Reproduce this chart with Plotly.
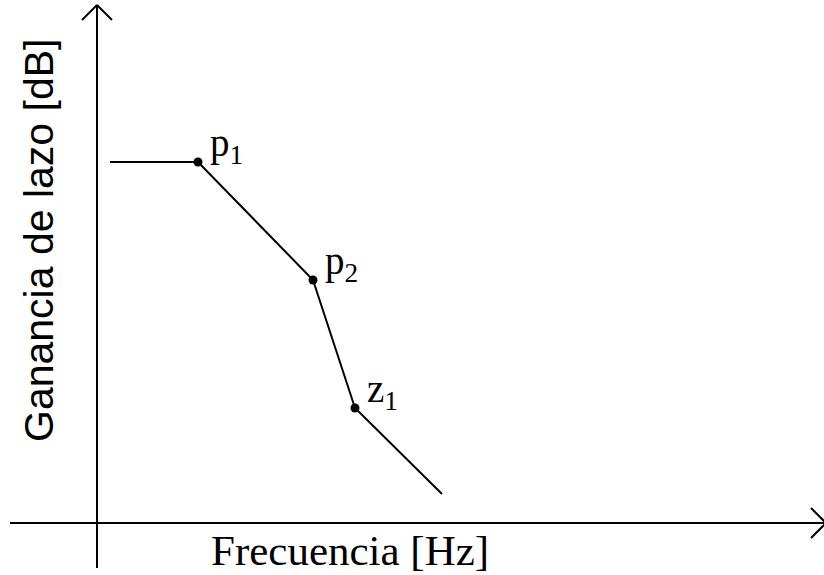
import plotly.graph_objects as go

# Asymptotic loop-gain curve (arbitrary units: frequency, gain)
freq = [1.3, 10.1, 21.6, 25.8, 34.5]
gain = [36.1, 36.1, 24.3, 11.5, 2.9]

# Break points
bp_freq = [10.1, 21.6, 25.8]
bp_gain = [36.1, 24.3, 11.5]
bp_labels = ["p<sub>1</sub>", "p<sub>2</sub>", "z<sub>1</sub>"]

x_title = "Frecuencia [Hz]"
y_title = "Ganancia de lazo [dB]"

XR = [-9.7, 72.7]
YR = [-5.2, 52.3]

fig = go.Figure()
fig.add_trace(go.Scatter(x=freq, y=gain, mode="lines",
                         line=dict(color="black", width=2), hoverinfo="skip"))
fig.add_trace(go.Scatter(x=bp_freq, y=bp_gain, mode="markers",
                         marker=dict(color="black", size=9), hoverinfo="skip"))

shapes = []
ax = dict(type="line", xref="x", yref="y", line=dict(color="black", width=2))
# y axis with arrow
shapes.append(dict(ax, x0=0, x1=0, y0=-4.5, y1=51.8))
shapes.append(dict(ax, x0=-1.5, y0=50.3, x1=0, y1=51.8))
shapes.append(dict(ax, x0=1.5, y0=50.3, x1=0, y1=51.8))
# x axis with arrow
shapes.append(dict(ax, x0=-8.7, x1=72.9, y0=0, y1=0))
shapes.append(dict(ax, x0=71.4, y0=1.5, x1=72.9, y1=0))
shapes.append(dict(ax, x0=71.4, y0=-1.5, x1=72.9, y1=0))

annotations = []
for fx, gy, lab in zip(bp_freq, bp_gain, bp_labels):
    annotations.append(dict(x=fx, y=gy, xref="x", yref="y", text=lab, showarrow=False,
                            xanchor="left", yanchor="bottom", xshift=10, yshift=-10,
                            font=dict(family="Liberation Serif", size=39, color="black")))
annotations.append(dict(x=25.3, y=-2.7, xref="x", yref="y", text=x_title, showarrow=False,
                        xanchor="center", yanchor="middle",
                        font=dict(family="Liberation Serif", size=43, color="black")))
annotations.append(dict(x=-5.8, y=28.2, xref="x", yref="y", text=y_title, showarrow=False,
                        textangle=-90, xanchor="center", yanchor="middle",
                        font=dict(family="Liberation Sans", size=41, color="black")))

fig.update_layout(
    width=824, height=575,
    margin=dict(l=0, r=0, t=0, b=0),
    paper_bgcolor="white", plot_bgcolor="white",
    showlegend=False,
    xaxis=dict(range=XR, visible=False, fixedrange=True),
    yaxis=dict(range=YR, visible=False, fixedrange=True),
    shapes=shapes, annotations=annotations,
)
fig.write_html("out.html", config={"displayModeBar": False},
               post_script="document.body.style.margin='0';")
